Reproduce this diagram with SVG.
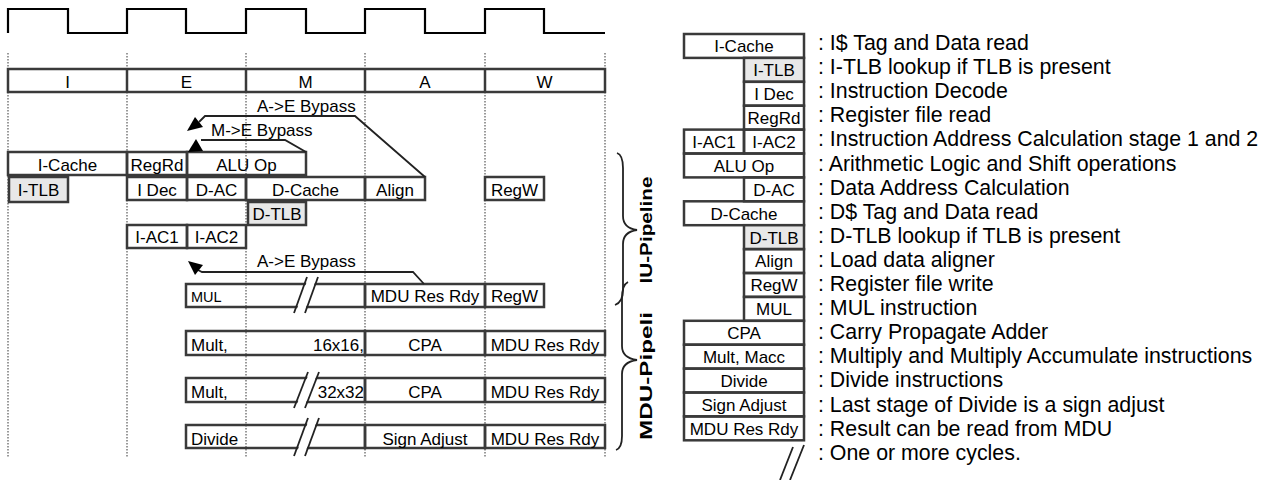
<svg xmlns="http://www.w3.org/2000/svg" width="1272" height="480" viewBox="0 0 1272 480">
<style>
text{font-family:"Liberation Sans",Arial,sans-serif;fill:#000}
.t{font-size:17px}
.c{text-anchor:middle}
.r{text-anchor:end}
.b{fill:none;stroke:#3a3a3a;stroke-width:2.5}
.g{fill:#e8e8e8;stroke:#3a3a3a;stroke-width:2.5}
.dot{stroke:#9a9a9a;stroke-width:2;stroke-dasharray:1.5 1.5}
.ln{fill:none;stroke:#222;stroke-width:1.8}
.ah{fill:#000}
.lg{font-size:21.35px}
.sl{fill:#fff;stroke:none}
.v{font-size:16.5px;font-weight:bold}
</style>
<rect width="1272" height="480" fill="#fff"/>
<!-- clock -->
<path d="M8,33 V9 H68 V33 H127 V9 H186 V33 H246 V9 H306 V33 H365 V9 H425 V33 H485 V9 H544 V33 H605" fill="none" stroke="#000" stroke-width="2.2"/>
<!-- dotted cycle lines -->
<g id="gridlines">
<line class="dot" x1="8" y1="53" x2="8" y2="458"/>
<line class="dot" x1="127" y1="53" x2="127" y2="458"/>
<line class="dot" x1="246" y1="53" x2="246" y2="458"/>
<line class="dot" x1="365" y1="53" x2="365" y2="458"/>
<line class="dot" x1="485" y1="53" x2="485" y2="458"/>
<line class="dot" x1="605" y1="53" x2="605" y2="458"/>
</g>
<!-- stage bar -->
<g id="stages">
<rect class="b" x="8" y="69" width="597" height="23" fill="#fff"/>
<line class="b" x1="127" y1="69" x2="127" y2="92"/>
<line class="b" x1="246" y1="69" x2="246" y2="92"/>
<line class="b" x1="365" y1="69" x2="365" y2="92"/>
<line class="b" x1="485" y1="69" x2="485" y2="92"/>
<text class="t c" x="67.5" y="87.5">I</text>
<text class="t c" x="186.5" y="87.5">E</text>
<text class="t c" x="305.5" y="87.5">M</text>
<text class="t c" x="425" y="87.5">A</text>
<text class="t c" x="544.5" y="87.5">W</text>
</g>
<!-- IU pipeline nodes -->
<g id="n-icache"><rect class="b" x="8" y="152" width="119" height="23"/><text class="t c" x="67.5" y="170.5">I-Cache</text></g>
<g id="n-regrd"><rect class="b" x="127" y="152" width="60" height="23"/><text class="t c" x="157" y="170.5">RegRd</text></g>
<g id="n-aluop"><rect class="b" x="187" y="152" width="119" height="23"/><text class="t c" x="246.5" y="170.5">ALU Op</text></g>
<g id="n-itlb"><rect class="g" x="9" y="177" width="59" height="25"/><text class="t c" x="38.5" y="196">I-TLB</text></g>
<g id="n-idec"><rect class="b" x="127" y="177" width="60" height="23"/><text class="t c" x="157" y="196">I Dec</text></g>
<g id="n-dac"><rect class="b" x="187" y="177" width="59" height="23"/><text class="t c" x="216.5" y="196">D-AC</text></g>
<g id="n-dcache"><rect class="b" x="246" y="177" width="119" height="23"/><text class="t c" x="305.5" y="196">D-Cache</text></g>
<g id="n-align"><rect class="b" x="365" y="177" width="60" height="23"/><text class="t c" x="395" y="196">Align</text></g>
<g id="n-regw"><rect class="b" x="485" y="177" width="59" height="23"/><text class="t c" x="514.5" y="196">RegW</text></g>
<g id="n-dtlb"><rect class="g" x="248" y="202" width="58" height="23"/><text class="t c" x="277" y="220">D-TLB</text></g>
<g id="n-iac1"><rect class="b" x="127" y="225" width="60" height="23"/><text class="t c" x="157" y="243">I-AC1</text></g>
<g id="n-iac2"><rect class="b" x="187" y="225" width="59" height="23"/><text class="t c" x="216.5" y="243">I-AC2</text></g>
<!-- MDU rows -->
<g id="n-mul">
<rect class="b" x="186" y="284" width="179" height="23"/>
<polygon class="sl" points="295.5,313 304,313 317,277 308.5,277"/>
<line class="ln" x1="294" y1="313" x2="307" y2="277"/><line class="ln" x1="305" y1="313" x2="318" y2="277"/>
<text x="191" y="302" font-size="14.5">MUL</text>
</g>
<g id="n-mul-rdy"><rect class="b" x="365" y="284" width="120" height="23"/><text class="t c" x="425" y="302">MDU Res Rdy</text></g>
<g id="n-mul-regw"><rect class="b" x="485" y="284" width="59" height="23"/><text class="t c" x="514.5" y="302">RegW</text></g>

<g id="n-mult16"><rect class="b" x="186" y="331" width="179" height="24"/><text class="t" x="191" y="351">Mult,</text><text class="t r" x="364" y="351">16x16,</text></g>
<g id="n-cpa16"><rect class="b" x="365" y="331" width="120" height="24"/><text class="t c" x="425" y="351">CPA</text></g>
<g id="n-rdy16"><rect class="b" x="485" y="331" width="120" height="24"/><text class="t c" x="545" y="351">MDU Res Rdy</text></g>

<g id="n-mult32">
<rect class="b" x="186" y="378" width="179" height="24"/>
<polygon class="sl" points="295.5,408 304,408 318,372 309.5,372"/>
<line class="ln" x1="294" y1="408" x2="308" y2="372"/><line class="ln" x1="305" y1="408" x2="319" y2="372"/>
<text class="t" x="191" y="398">Mult,</text><text class="t r" x="364" y="398">32x32</text>
</g>
<g id="n-cpa32"><rect class="b" x="365" y="378" width="120" height="24"/><text class="t c" x="425" y="398">CPA</text></g>
<g id="n-rdy32"><rect class="b" x="485" y="378" width="120" height="24"/><text class="t c" x="545" y="398">MDU Res Rdy</text></g>

<g id="n-divide">
<rect class="b" x="186" y="425" width="179" height="23"/>
<polygon class="sl" points="295.5,456 304,456 318,418 309.5,418"/>
<line class="ln" x1="294" y1="456" x2="308" y2="418"/><line class="ln" x1="305" y1="456" x2="319" y2="418"/>
<text class="t" x="191" y="445">Divide</text>
</g>
<g id="n-sign"><rect class="b" x="365" y="425" width="120" height="23"/><text class="t c" x="425" y="445">Sign Adjust</text></g>
<g id="n-rdydiv"><rect class="b" x="485" y="425" width="120" height="23"/><text class="t c" x="545" y="445">MDU Res Rdy</text></g>

<!-- connectors -->
<g id="connectors">
<path class="ln" d="M425,177 L355,116 L205,116 L199,122"/>
<polygon class="ah" points="195,117 203,127 187,131"/>
<text class="t" x="257" y="112">A-&gt;E Bypass</text>
<path class="ln" d="M306,152 L285,140 L201,140"/>
<polygon class="ah" points="188,152 203,151 196,139"/>
<text class="t" x="211" y="136">M-&gt;E Bypass</text>
<path class="ln" d="M424,284 L413,272 L202,272 L198,270"/>
<polygon class="ah" points="188,261 203,265 195,275"/>
<text class="t" x="257" y="267">A-&gt;E Bypass</text>
</g>
<!-- braces -->
<g id="braces">
<path class="ln" d="M617,153 Q623,155 623,168 L623,216 Q623,228 637,230 Q623,232 623,244 L623,290 Q623,302 615,305"/>
<path class="ln" d="M628,282 Q622,285 622,298 L622,346 Q622,358 637,360 Q622,362 622,374 L622,436 Q622,448 616,450"/>
<text class="v c" transform="translate(652,230) rotate(-90)" textLength="107" lengthAdjust="spacingAndGlyphs">IU-Pipeline</text>
<text class="v c" transform="translate(652,376) rotate(-90)" textLength="128" lengthAdjust="spacingAndGlyphs">MDU-Pipeli</text>
</g>
<!-- legend -->
<g id="legend">
<g id="l-icache"><rect class="b" x="684" y="34" width="120" height="23.9"/><text class="t c" x="744" y="52.3">I-Cache</text></g>
<g id="l-itlb"><rect class="g" x="744" y="57.9" width="60" height="23.9"/><text class="t c" x="774" y="76.2">I-TLB</text></g>
<g id="l-idec"><rect class="b" x="744" y="81.8" width="60" height="23.9"/><text class="t c" x="774" y="100.1">I Dec</text></g>
<g id="l-regrd"><rect class="b" x="744" y="105.7" width="60" height="23.9"/><text class="t c" x="774" y="124">RegRd</text></g>
<g id="l-iac"><rect class="b" x="684" y="129.6" width="60" height="23.9"/><rect class="b" x="744" y="129.6" width="60" height="23.9"/><text class="t c" x="714" y="147.9">I-AC1</text><text class="t c" x="774" y="147.9">I-AC2</text></g>
<g id="l-alu"><rect class="b" x="684" y="153.5" width="120" height="23.9"/><text class="t c" x="744" y="171.8">ALU Op</text></g>
<g id="l-dac"><rect class="b" x="744" y="177.4" width="60" height="23.9"/><text class="t c" x="774" y="195.7">D-AC</text></g>
<g id="l-dcache"><rect class="b" x="684" y="201.3" width="120" height="23.9"/><text class="t c" x="744" y="219.6">D-Cache</text></g>
<g id="l-dtlb"><rect class="g" x="744" y="225.2" width="60" height="23.9"/><text class="t c" x="774" y="243.5">D-TLB</text></g>
<g id="l-align"><rect class="b" x="744" y="249.1" width="60" height="23.9"/><text class="t c" x="774" y="267.4">Align</text></g>
<g id="l-regw"><rect class="b" x="744" y="273" width="60" height="23.9"/><text class="t c" x="774" y="291.3">RegW</text></g>
<g id="l-mul"><rect class="b" x="744" y="296.9" width="60" height="23.9"/><text class="t c" x="774" y="315.2">MUL</text></g>
<g id="l-cpa"><rect class="b" x="684" y="320.8" width="120" height="23.9"/><text class="t c" x="744" y="339.1">CPA</text></g>
<g id="l-mult"><rect class="b" x="684" y="344.7" width="120" height="23.9"/><text class="t c" x="744" y="363">Mult, Macc</text></g>
<g id="l-div"><rect class="b" x="684" y="368.6" width="120" height="23.9"/><text class="t c" x="744" y="386.9">Divide</text></g>
<g id="l-sign"><rect class="b" x="684" y="392.5" width="120" height="23.9"/><text class="t c" x="744" y="410.8">Sign Adjust</text></g>
<g id="l-rdy"><rect class="b" x="684" y="416.4" width="120" height="23.9"/><text class="t c" x="744" y="434.7">MDU Res Rdy</text></g>
<g id="l-slash"><line class="ln" x1="780" y1="480" x2="793" y2="447"/><line class="ln" x1="790" y1="480" x2="804" y2="445"/></g>
<text class="lg" x="818" y="50">: I$ Tag and Data read</text>
<text class="lg" x="818" y="74.1">: I-TLB lookup if TLB is present</text>
<text class="lg" x="818" y="98.2">: Instruction Decode</text>
<text class="lg" x="818" y="122.3">: Register file read</text>
<text class="lg" x="818" y="146.4">: Instruction Address Calculation stage 1 and 2</text>
<text class="lg" x="818" y="170.5">: Arithmetic Logic and Shift operations</text>
<text class="lg" x="818" y="194.6">: Data Address Calculation</text>
<text class="lg" x="818" y="218.7">: D$ Tag and Data read</text>
<text class="lg" x="818" y="242.8">: D-TLB lookup if TLB is present</text>
<text class="lg" x="818" y="266.9">: Load data aligner</text>
<text class="lg" x="818" y="291">: Register file write</text>
<text class="lg" x="818" y="315.1">: MUL instruction</text>
<text class="lg" x="818" y="339.2">: Carry Propagate Adder</text>
<text class="lg" x="818" y="363.3">: Multiply and Multiply Accumulate instructions</text>
<text class="lg" x="818" y="387.4">: Divide instructions</text>
<text class="lg" x="818" y="411.5">: Last stage of Divide is a sign adjust</text>
<text class="lg" x="818" y="435.6">: Result can be read from MDU</text>
<text class="lg" x="818" y="459.7">: One or more cycles.</text>
</g>
</svg>
